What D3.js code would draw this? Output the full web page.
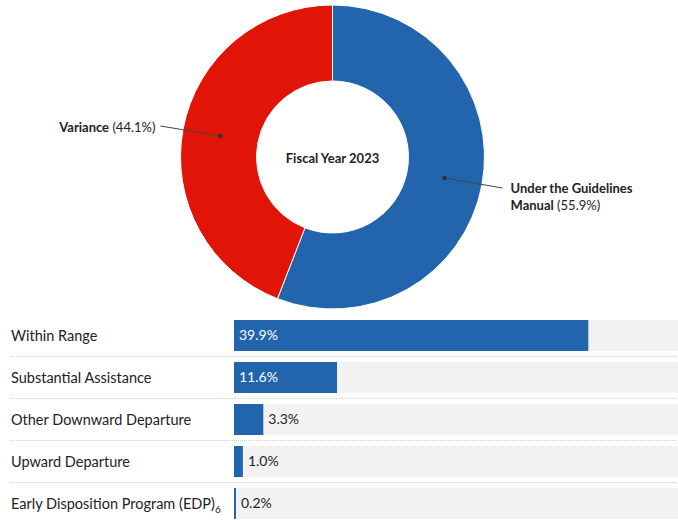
<!DOCTYPE html>
<html>
<head>
<meta charset="utf-8">
<script src="https://cdn.jsdelivr.net/npm/d3@7"></script>
<style>
  body { margin: 0; background: #fff; }
  svg { display: block; font-family: Lato, "Open Sans", sans-serif; }
</style>
</head>
<body>
<script>
// data
var sliceNames = ["Under the Guidelines Manual", "Variance"];
var sliceValues = [55.9, 44.1];
var sliceColors = ["#2265ad", "#e01507"];

var barNames = ["Within Range", "Substantial Assistance", "Other Downward Departure", "Upward Departure", "Early Disposition Program (EDP)"];
var barValues = [39.9, 11.6, 3.3, 1.0, 0.2];
var centerTitle = "Fiscal Year 2023";

var svgWidth = 678;
var svgHeight = 520;

var svg = d3.select("body")
  .append("svg")
  .attr("width", svgWidth)
  .attr("height", svgHeight);

// donut
var cx = 332.5, cy = 157, outerR = 152, innerR = 76;

var pie = d3.pie().sort(null).value(d => d);
var arcs = pie(sliceValues);

var arc = d3.arc().innerRadius(innerR).outerRadius(outerR);
var midArc = d3.arc().innerRadius((innerR + outerR) / 2).outerRadius((innerR + outerR) / 2);

var donut = svg.append("g")
  .attr("transform", `translate(${cx}, ${cy})`);

donut.selectAll("path")
  .data(arcs)
  .enter()
  .append("path")
  .attr("d", arc)
  .attr("fill", (d, i) => sliceColors[i])
  .attr("stroke", "#fff")
  .attr("stroke-width", 1);

donut.append("text")
  .attr("text-anchor", "middle")
  .attr("dy", "0.35em")
  .attr("y", 1)
  .style("font-size", "13px")
  .style("font-weight", "700")
  .attr("fill", "#222")
  .text(centerTitle);

// leader lines + labels
arcs.forEach(function(d, i) {
  var p = midArc.centroid(d);
  var right = p[0] > 0;
  var end = right ? [p[0] + 58, p[1] + 10] : [p[0] - 60, p[1] - 10];

  donut.append("line")
    .attr("x1", p[0]).attr("y1", p[1])
    .attr("x2", end[0]).attr("y2", end[1])
    .attr("stroke", "#444")
    .attr("stroke-width", 1);

  donut.append("circle")
    .attr("cx", p[0]).attr("cy", p[1])
    .attr("r", 2.2)
    .attr("fill", "#333");

  var label = donut.append("text")
    .attr("fill", "#222")
    .style("font-size", "13px");

  var pct = " (" + sliceValues[i].toFixed(1) + "%)";
  if (right) {
    var words = sliceNames[i].split(" ");
    var line1 = words.slice(0, 3).join(" ");
    var line2 = words.slice(3).join(" ");
    var t1 = label.append("tspan")
      .attr("x", end[0] + 8).attr("y", end[1]).attr("dy", "0.35em");
    t1.append("tspan").style("font-weight", "700").text(line1);
    var t2 = label.append("tspan")
      .attr("x", end[0] + 8).attr("y", end[1] + 17.5).attr("dy", "0.35em");
    t2.append("tspan").style("font-weight", "700").text(line2);
    t2.append("tspan").text(pct);
  } else {
    label.attr("text-anchor", "end")
      .attr("x", end[0] - 5).attr("y", end[1] + 1).attr("dy", "0.35em");
    label.append("tspan").style("font-weight", "700").text(sliceNames[i]);
    label.append("tspan").text(pct);
  }
});

// bars
var xScale = d3.scaleLinear().domain([0, 50]).range([234, 678]);
var yScale = d3.scaleBand()
  .domain(barNames)
  .range([320, 519])
  .paddingInner(0.262)
  .paddingOuter(0);

var rows = svg.append("g")
  .selectAll("g")
  .data(barNames)
  .enter()
  .append("g");

rows.append("rect")
  .attr("x", xScale(0))
  .attr("y", d => yScale(d))
  .attr("width", xScale(50) - xScale(0))
  .attr("height", yScale.bandwidth())
  .attr("fill", "#f2f2f2");

rows.append("rect")
  .attr("x", xScale(0))
  .attr("y", d => yScale(d))
  .attr("width", (d, i) => Math.max(2, xScale(barValues[i]) - xScale(0)))
  .attr("height", yScale.bandwidth())
  .attr("fill", "#2265ad");

// separators
rows.filter((d, i) => i < barNames.length - 1)
  .append("line")
  .attr("x1", 10)
  .attr("x2", 678)
  .attr("y1", d => yScale(d) + yScale.bandwidth() + 5.5)
  .attr("y2", d => yScale(d) + yScale.bandwidth() + 5.5)
  .attr("stroke", "#cfcfcf")
  .attr("stroke-width", 1)
  .attr("stroke-dasharray", "1,1");

// category labels
var catLabels = rows.append("text")
  .attr("x", 11)
  .attr("y", d => yScale(d) + yScale.bandwidth() / 2)
  .attr("dy", "0.35em")
  .attr("fill", "#222")
  .style("font-size", "14.5px")
  .text(d => d);

catLabels.filter(d => d.indexOf("EDP") >= 0)
  .append("tspan")
  .attr("dy", "4")
  .style("font-size", "10px")
  .text("6");

// value labels
rows.append("text")
  .attr("x", (d, i) => {
    var w = xScale(barValues[i]) - xScale(0);
    return w > 50 ? xScale(0) + 5 : xScale(0) + Math.max(2, w) + 5;
  })
  .attr("y", d => yScale(d) + yScale.bandwidth() / 2)
  .attr("dy", "0.35em")
  .attr("fill", (d, i) => (xScale(barValues[i]) - xScale(0)) > 50 ? "#fff" : "#222")
  .style("font-size", "14px")
  .text((d, i) => barValues[i].toFixed(1) + "%");
</script>
</body>
</html>
